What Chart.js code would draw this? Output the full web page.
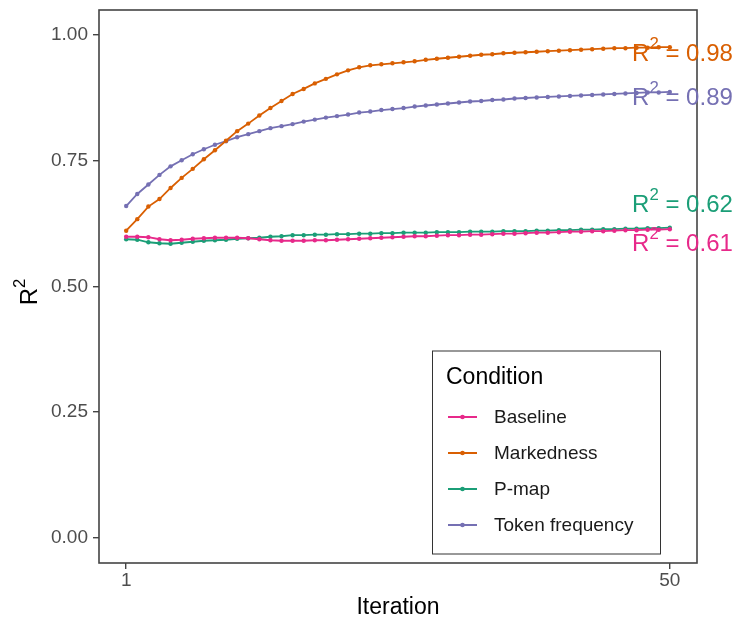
<!DOCTYPE html>
<html>
<head>
<meta charset="utf-8">
<script src="https://cdn.jsdelivr.net/npm/chart.js@4.4.1/dist/chart.umd.min.js"></script>
<style>
  body { margin: 0; background: #fff; }
  #wrap { width: 737px; height: 622px; }
</style>
</head>
<body>
<div id="wrap"><canvas id="r2Chart" width="737" height="622"></canvas></div>
<script>
// data
const iterations = [1,2,3,4,5,6,7,8,9,10,11,12,13,14,15,16,17,18,19,20,21,22,23,24,25,
  26,27,28,29,30,31,32,33,34,35,36,37,38,39,40,41,42,43,44,45,46,47,48,49,50];

const baseline = [0.599,0.599,0.598,0.594,0.592,0.593,0.595,0.596,0.597,0.597,
  0.597,0.596,0.594,0.592,0.591,0.591,0.591,0.592,0.592,0.593,
  0.594,0.595,0.596,0.597,0.598,0.599,0.600,0.600,0.601,0.602,
  0.602,0.603,0.603,0.604,0.605,0.605,0.606,0.607,0.607,0.608,
  0.609,0.609,0.610,0.610,0.611,0.612,0.612,0.613,0.613,0.614];

const markedness = [0.611,0.634,0.659,0.674,0.696,0.716,0.734,0.753,0.771,0.790,
  0.809,0.824,0.840,0.855,0.869,0.883,0.893,0.904,0.913,0.922,
  0.930,0.936,0.940,0.942,0.944,0.946,0.948,0.951,0.953,0.955,
  0.957,0.959,0.961,0.962,0.964,0.965,0.966,0.967,0.968,0.969,
  0.970,0.971,0.972,0.973,0.974,0.974,0.975,0.975,0.976,0.976];

const pmap = [0.594,0.593,0.588,0.586,0.585,0.587,0.589,0.591,0.592,0.593,
  0.595,0.596,0.597,0.599,0.600,0.602,0.602,0.603,0.603,0.604,
  0.604,0.605,0.605,0.606,0.606,0.607,0.607,0.607,0.608,0.608,
  0.608,0.609,0.609,0.609,0.610,0.610,0.610,0.611,0.611,0.612,
  0.612,0.613,0.613,0.614,0.614,0.615,0.615,0.616,0.616,0.617];

const tokenFrequency = [0.660,0.684,0.703,0.722,0.739,0.751,0.763,0.773,0.782,0.789,
  0.797,0.803,0.809,0.815,0.819,0.823,0.828,0.832,0.836,0.839,
  0.842,0.846,0.848,0.851,0.853,0.855,0.858,0.860,0.862,0.864,
  0.866,0.868,0.869,0.871,0.872,0.874,0.875,0.876,0.877,0.878,
  0.879,0.880,0.881,0.882,0.883,0.884,0.885,0.886,0.886,0.887];

const conditions = ['Baseline', 'Markedness', 'P-map', 'Token frequency'];
const colors = ['#E7298A', '#D95F02', '#1B9E77', '#7570B3'];
const xTicks = [1, 50];
const yTicks = [0, 0.25, 0.5, 0.75, 1];

// R² labels at the line ends
const r2Text = ['0.61', '0.98', '0.62', '0.89'];
const r2LabelY = [0.587, 0.966, 0.666, 0.878];
const r2LabelX = 46.6;

const FONT = '"Liberation Sans", Arial, sans-serif';

// draws "R" with a superscript 2 followed by rest
function drawR2(ctx, x, y, rest, size, color, align) {
  ctx.fillStyle = color;
  ctx.textBaseline = 'alphabetic';
  ctx.textAlign = 'left';
  const supSize = size * 0.7;
  ctx.font = size + 'px ' + FONT;
  const wR = ctx.measureText('R').width;
  const wRest = ctx.measureText(rest).width;
  ctx.font = supSize + 'px ' + FONT;
  const wSup = ctx.measureText('2').width;
  let x0 = x;
  if (align === 'center') x0 = x - (wR + wSup + wRest) / 2;
  ctx.font = size + 'px ' + FONT;
  ctx.fillText('R', x0, y);
  ctx.font = supSize + 'px ' + FONT;
  ctx.fillText('2', x0 + wR, y - size * 0.5);
  ctx.font = size + 'px ' + FONT;
  ctx.fillText(rest, x0 + wR + wSup, y);
}

const extrasPlugin = {
  id: 'extras',
  afterDraw(chart) {
    const ctx = chart.ctx;
    const area = chart.chartArea;
    const xs = chart.scales.x;
    const ys = chart.scales.y;
    ctx.save();

    // panel border
    ctx.strokeStyle = '#444';
    ctx.lineWidth = 1.6;
    ctx.strokeRect(area.left, area.top, area.right - area.left, area.bottom - area.top);

    // y title
    ctx.save();
    ctx.translate(37, 292);
    ctx.rotate(-Math.PI / 2);
    drawR2(ctx, 0, 0, '', 24, '#000', 'center');
    ctx.restore();

    // R² annotations
    chart.data.datasets.forEach((ds, i) => {
      const px = xs.getPixelForValue(r2LabelX);
      const py = ys.getPixelForValue(r2LabelY[i]) + 24 * 0.36;
      drawR2(ctx, px, py, ' = ' + r2Text[i], 24, ds.borderColor);
    });

    // legend
    const box = { x: 432.5, y: 351, w: 228, h: 203 };
    ctx.strokeStyle = '#333';
    ctx.lineWidth = 1;
    ctx.strokeRect(box.x, box.y, box.w, box.h);
    ctx.fillStyle = '#000';
    ctx.textAlign = 'left';
    ctx.textBaseline = 'middle';
    ctx.font = '23px ' + FONT;
    ctx.fillText('Condition', 446, 378);
    ctx.font = '19px ' + FONT;
    chart.data.datasets.forEach((ds, i) => {
      const y = 417 + i * 36;
      ctx.strokeStyle = ds.borderColor;
      ctx.lineWidth = 2;
      ctx.beginPath();
      ctx.moveTo(448, y);
      ctx.lineTo(477, y);
      ctx.stroke();
      ctx.fillStyle = ds.borderColor;
      ctx.beginPath();
      ctx.arc(462.5, y, 2.3, 0, Math.PI * 2);
      ctx.fill();
      ctx.fillStyle = '#1a1a1a';
      ctx.fillText(ds.label, 494, y + 1);
    });

    ctx.restore();
  }
};

function initChart() {
  const ctx = document.getElementById('r2Chart').getContext('2d');
  const series = [baseline, markedness, pmap, tokenFrequency];

  const data = {
    datasets: series.map((vals, i) => ({
      label: conditions[i],
      data: iterations.map((it, k) => ({ x: it, y: vals[k] })),
      borderColor: colors[i],
      backgroundColor: colors[i],
      pointBackgroundColor: colors[i],
      borderWidth: 1.8,
      pointRadius: 2.2,
      pointBorderWidth: 0,
      pointHoverRadius: 2.2,
      tension: 0
    }))
  };

  const tickFont = { family: FONT, size: 19 };

  const options = {
    responsive: false,
    animation: false,
    layout: { padding: { top: 10, right: 40, left: 0, bottom: 0 } },
    plugins: {
      legend: { display: false },
      tooltip: { enabled: false }
    },
    scales: {
      x: {
        type: 'linear',
        min: -1.45,
        max: 52.45,
        afterBuildTicks: s => { s.ticks = xTicks.map(v => ({ value: v })); },
        afterFit: s => { s.height = 59; s.paddingLeft = 0; s.paddingRight = 0; },
        grid: { drawOnChartArea: false, drawTicks: true, tickLength: 6, color: '#444', lineWidth: 1.4 },
        border: { display: false },
        ticks: { color: '#4D4D4D', font: tickFont, padding: 0, maxRotation: 0, autoSkip: false },
        title: {
          display: true,
          text: 'Iteration',
          color: '#000',
          font: { family: FONT, size: 23 },
          padding: { top: 0, bottom: 1 }
        }
      },
      y: {
        type: 'linear',
        min: -0.05,
        max: 1.05,
        afterBuildTicks: s => { s.ticks = yTicks.map(v => ({ value: v })); },
        afterFit: s => { s.width = 99; s.paddingTop = 0; s.paddingBottom = 0; },
        grid: { drawOnChartArea: false, drawTicks: true, tickLength: 6, color: '#444', lineWidth: 1.4 },
        border: { display: false },
        ticks: {
          color: '#4D4D4D',
          font: tickFont,
          padding: 5,
          callback: v => v.toFixed(2)
        }
      }
    }
  };

  new Chart(ctx, {
    type: 'line',
    data: data,
    options: options,
    plugins: [extrasPlugin]
  });
}

window.addEventListener('DOMContentLoaded', initChart);
</script>
</body>
</html>
